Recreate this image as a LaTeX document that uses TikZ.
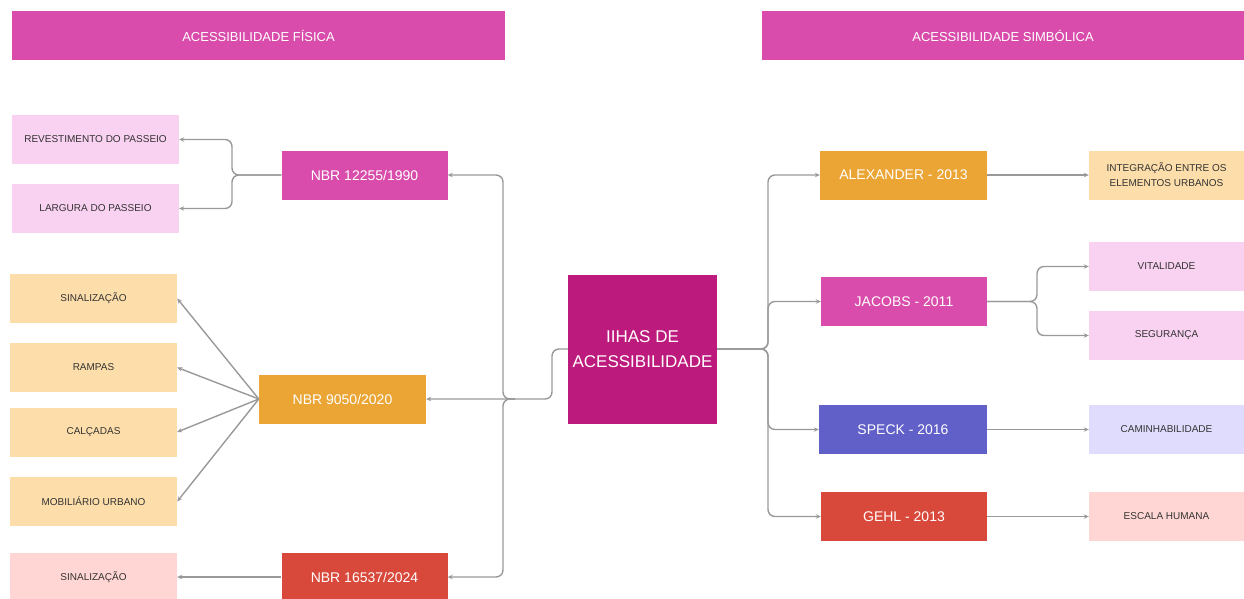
\documentclass[tikz,border=0pt]{standalone}
\usepackage{fontspec}
\setmainfont{Liberation Sans}
\usetikzlibrary{arrows.meta}
\definecolor{hdr}{HTML}{D94CAB}
\definecolor{ctr}{HTML}{BD1A7E}
\definecolor{org}{HTML}{EBA535}
\definecolor{lorg}{HTML}{FDDDAA}
\definecolor{lpink}{HTML}{F9D1F1}
\definecolor{redd}{HTML}{D9493B}
\definecolor{lred}{HTML}{FFD6D3}
\definecolor{purp}{HTML}{6160C8}
\definecolor{lpurp}{HTML}{E0DCFD}
\definecolor{lin}{HTML}{999999}
\definecolor{txt}{HTML}{333333}
\tikzset{
  hbox/.style={inner sep=0pt, minimum height=49pt, text=white, font=\fontsize{13}{15}\selectfont},
  mid/.style={inner sep=0pt, minimum width=166pt, minimum height=49pt, text=white, font=\fontsize{14}{16}\selectfont},
  leaf/.style={inner sep=0pt, minimum width=167pt, minimum height=49pt, text=txt, align=center, font=\fontsize{10}{12}\selectfont},
  rleaf/.style={leaf, minimum width=155pt},
  conn/.style={draw=lin, line width=1.4pt, rounded corners=7pt, -{Stealth[length=5pt,width=4.5pt]}}
}
\begin{document}
\begin{tikzpicture}[x=1pt,y=-1pt]
\useasboundingbox (0,0) rectangle (1244,598);
% headers
\node[hbox, fill=hdr, minimum width=493pt] (hl) at (258.5,35.5) {ACESSIBILIDADE FÍSICA};
\node[hbox, fill=hdr, minimum width=482pt] (hr) at (1003,35.5) {ACESSIBILIDADE SIMBÓLICA};
% center
\node[inner sep=0pt, minimum width=149pt, minimum height=149pt, fill=ctr, text=white, align=center, font=\fontsize{17}{25}\selectfont] (ilhas) at (642.5,349) {IIHAS DE\\ACESSIBILIDADE};
% left mids
\node[mid, fill=hdr] (n12255) at (364.5,175) {NBR 12255/1990};
\node[mid, fill=org, minimum width=167pt] (n9050) at (342.5,399) {NBR 9050/2020};
\node[mid, fill=redd] (n16537) at (364.5,577) {NBR 16537/2024};
% left leaves
\node[leaf, fill=lpink] (rev) at (95.5,139.5) {REVESTIMENTO DO PASSEIO};
\node[leaf, fill=lpink] (larg) at (95.5,208.5) {LARGURA DO PASSEIO};
\node[leaf, fill=lorg] (sin1) at (93.5,298.5) {SINALIZAÇÃO};
\node[leaf, fill=lorg] (ramp) at (93.5,367.5) {RAMPAS};
\node[leaf, fill=lorg] (calc) at (93.5,432) {CALÇADAS};
\node[leaf, fill=lorg] (mob) at (93.5,501.5) {MOBILIÁRIO URBANO};
\node[leaf, fill=lred] (sin2) at (93.5,577) {SINALIZAÇÃO};
% right mids
\node[mid, fill=org, minimum width=167pt] (alex) at (903.5,175) {ALEXANDER - 2013};
\node[mid, fill=hdr] (jac) at (904,301.5) {JACOBS - 2011};
\node[mid, fill=purp, minimum width=168pt] (speck) at (903,429.5) {SPECK - 2016};
\node[mid, fill=redd] (gehl) at (904,516.5) {GEHL - 2013};
% right leaves
\node[rleaf, fill=lorg, font=\fontsize{10}{15}\selectfont] (integ) at (1166.5,175) {INTEGRAÇÃO ENTRE OS\\ELEMENTOS URBANOS};
\node[rleaf, fill=lpink] (vit) at (1166.5,266.5) {VITALIDADE};
\node[rleaf, fill=lpink] (seg) at (1166.5,335.5) {SEGURANÇA};
\node[rleaf, fill=lpurp] (cam) at (1166.5,429.5) {CAMINHABILIDADE};
\node[rleaf, fill=lred] (esc) at (1166.5,516.5) {ESCALA HUMANA};
% junction coordinates
\coordinate (lb) at (552,349);
\coordinate (lj) at (503,399);
\coordinate (rj) at (768,349);
\coordinate (nj) at (232,175);
\coordinate (jj) at (1037,301.5);
% left trunk
\draw[conn] (ilhas.west) -- (lb) -- (lb |- n9050) -- (n9050.east);
\draw[conn] ([xshift=12pt]lj) -- (lj) -- (lj |- n12255) -- (n12255.east);
\draw[conn] ([xshift=12pt]lj) -- (lj) -- (lj |- n16537) -- (n16537.east);
% NBR 12255 branches
\draw[conn] (n12255.west) -- (nj) -- (nj |- rev) -- (rev.east);
\draw[conn] (n12255.west) -- (nj) -- (nj |- larg) -- (larg.east);
% NBR 9050 fan
\draw[conn, rounded corners=0pt] (n9050.west) -- (sin1.east);
\draw[conn, rounded corners=0pt] (n9050.west) -- (ramp.east);
\draw[conn, rounded corners=0pt] (n9050.west) -- (calc.east);
\draw[conn, rounded corners=0pt] (n9050.west) -- (mob.east);
% NBR 16537
\draw[conn] (n16537.west) -- (sin2.east);
% right trunk
\draw[conn] (ilhas.east) -- (rj) -- (rj |- alex) -- (alex.west);
\draw[conn] (ilhas.east) -- (rj) -- (rj |- jac) -- (jac.west);
\draw[conn] (ilhas.east) -- (rj) -- (rj |- speck) -- (speck.west);
\draw[conn] (ilhas.east) -- (rj) -- (rj |- gehl) -- (gehl.west);
% right branches
\draw[conn] (alex.east) -- (integ.west);
\draw[conn] (jac.east) -- (jj) -- (jj |- vit) -- (vit.west);
\draw[conn] (jac.east) -- (jj) -- (jj |- seg) -- (seg.west);
\draw[conn] (speck.east) -- (cam.west);
\draw[conn] (gehl.east) -- (esc.west);
\end{tikzpicture}
\end{document}
